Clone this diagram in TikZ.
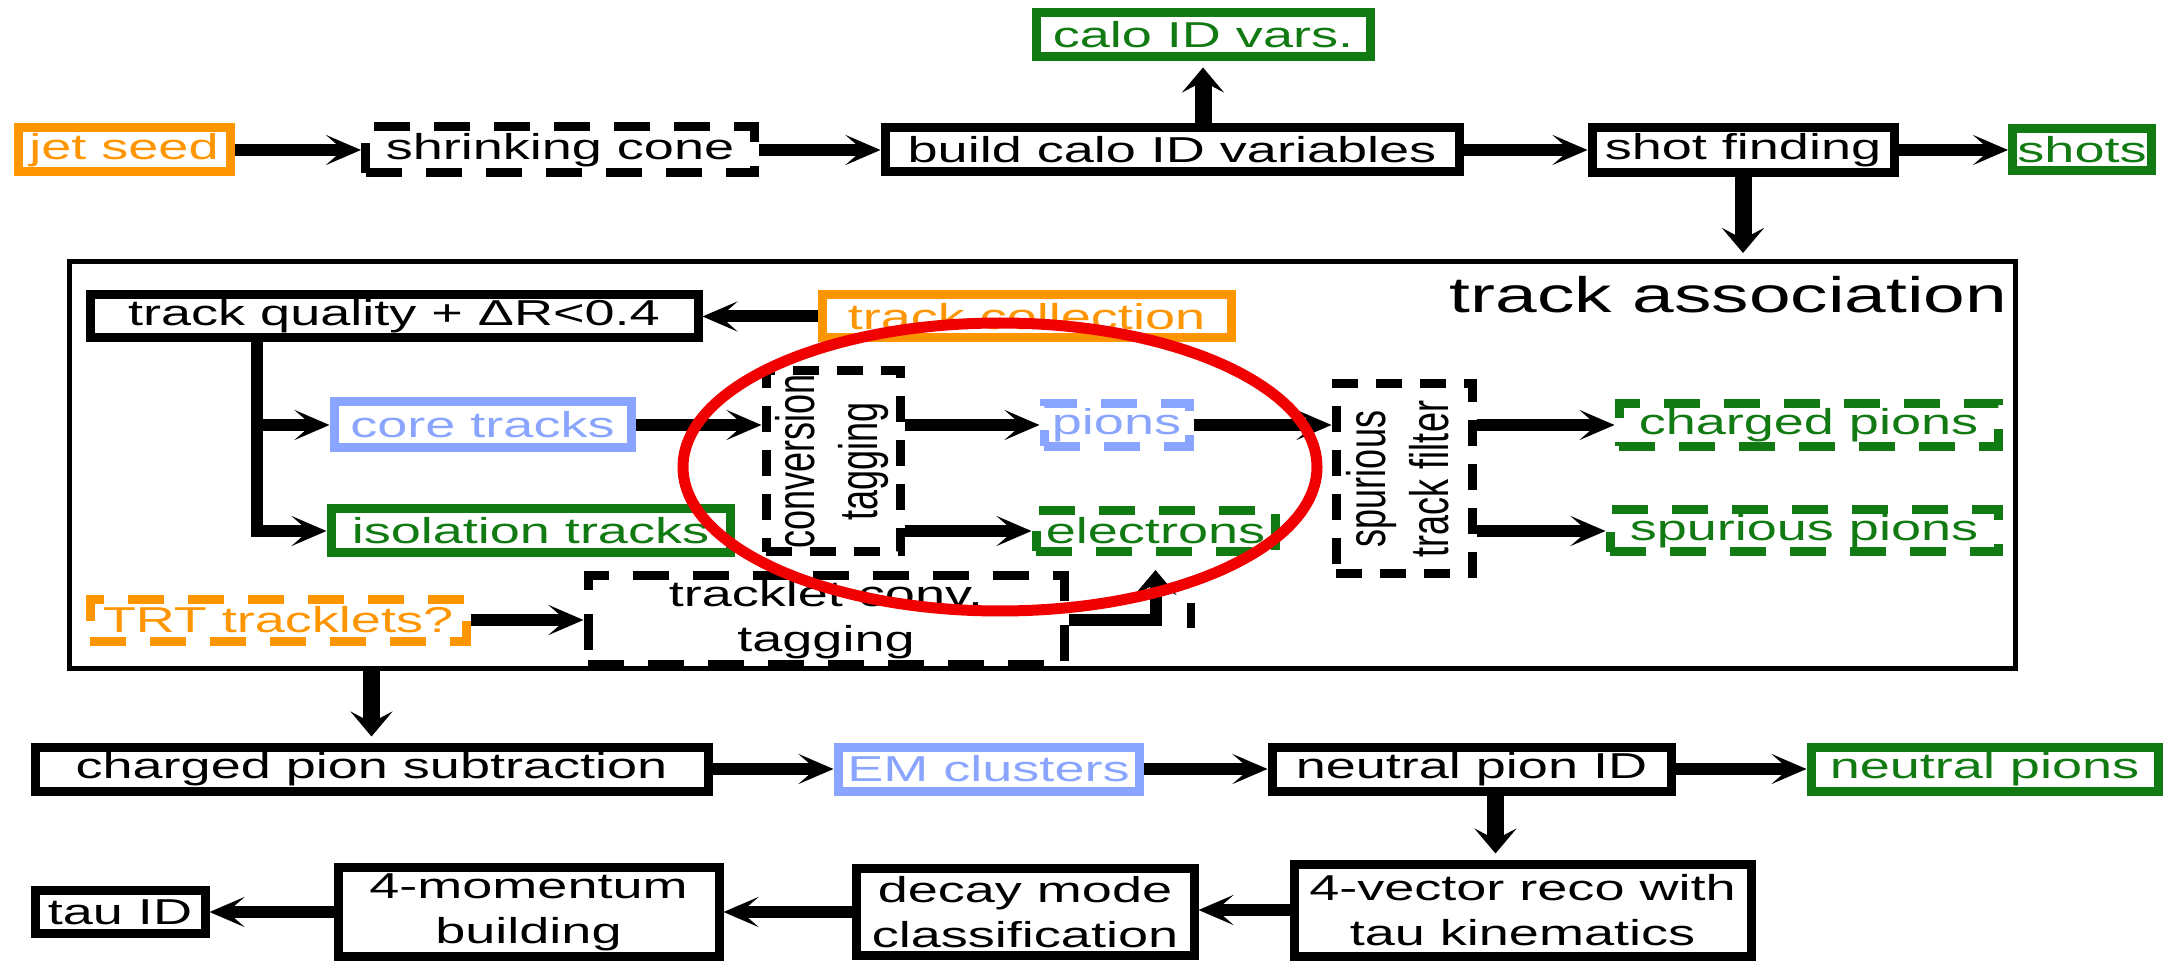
\documentclass[tikz,border=0pt]{standalone}
\usepackage{fontspec}
\setmainfont{Liberation Sans}[FakeStretch=1.5]
\newfontfamily\plainsans{Liberation Sans}
\usepackage{graphicx}
\usepackage{tikz}
\usetikzlibrary{arrows.meta,positioning}

\definecolor{seedorange}{HTML}{FF9500}
\definecolor{outgreen}{HTML}{127A12}
\definecolor{clublue}{HTML}{8AA5FF}
\definecolor{ringred}{HTML}{F00000}

% two-line label turned on its side
\newcommand{\rotlabel}[2]{\rotatebox{90}{\scalebox{1}[1.5]{\plainsans\fontsize{10.25}{12}\selectfont
  \begin{tabular}{@{}c@{}}#1\\#2\end{tabular}}}}

\begin{document}
\begin{tikzpicture}[
  x=0.1mm, y=-0.1mm,
  every node/.style={font=\fontsize{10.25}{12.8}\selectfont},
  box/.style={rectangle, draw, line width=0.9mm, inner sep=0pt, align=center},
  dbox/.style={box, dash pattern=on 3.6mm off 2.4mm},
  vdbox/.style={box, dash pattern=on 2.6mm off 1.8mm},
  orangebox/.style={draw=seedorange, text=seedorange},
  greenbox/.style={draw=outgreen, text=outgreen},
  bluebox/.style={draw=clublue, text=clublue},
  harr/.style={-{Stealth[length=3.5mm, width=3mm, inset=1.7mm]}, line width=1.2mm},
  varr/.style={-{Stealth[length=2.5mm, width=4.2mm, inset=1.1mm]}, line width=1.7mm,
               shorten >=0.6mm},
]
\useasboundingbox (0,0) rectangle (2180,961);

% calorimeter chain
\node[box, orangebox, minimum width=21.2mm, minimum height=4.4mm] (seed) at (124,150) {jet seed};
\node[dbox, minimum width=38.9mm, minimum height=4.6mm]   (cone)     at (560,150)  {shrinking cone};
\node[box, minimum width=57.4mm, minimum height=4.4mm]    (calo)     at (1172,150) {build calo ID variables};
\node[box, greenbox, minimum width=33.4mm, minimum height=4.4mm] (calovars) at (1203,35) {calo ID vars.};
\node[box, minimum width=30.2mm, minimum height=4.5mm]    (shot)     at (1743,150) {shot finding};
\node[box, greenbox, minimum width=13.9mm, minimum height=4.2mm] (shots) at (2082,150) {shots};

% track association
\node[rectangle, draw, line width=0.5mm, inner sep=0pt,
      minimum width=194.6mm, minimum height=40.7mm] (ta) at (1042.5,465) {};
\node[font=\fontsize{14.2}{17}\selectfont, anchor=base east, inner sep=0pt]
                                                          (talabel)  at (2008,313) {track association};
\node[box, minimum width=60.8mm, minimum height=4.3mm]    (tq)       at (394,316.5) {track quality + ΔR<0.4};
\node[box, orangebox, minimum width=40.9mm, minimum height=4.3mm] (tcol) at (1026.5,316.5) {track collection};
\node[box, bluebox, minimum width=29.7mm, minimum height=4.6mm]   (core) at (482.5,425) {core tracks};
\node[box, greenbox, minimum width=39.9mm, minimum height=4.4mm]  (iso)  at (530.5,531) {isolation tracks};
\node[vdbox, minimum width=13.4mm, minimum height=18.1mm] (conv)     at (833,461.5) {\rotlabel{conversion}{tagging}};
\node[dbox, bluebox, minimum width=14.5mm, minimum height=4.3mm]  (pions) at (1116.5,425) {pions};
\node[dbox, greenbox, minimum width=23.9mm, minimum height=4.1mm] (el)   at (1155.5,531) {electrons};
\node[vdbox, minimum width=13.6mm, minimum height=19mm]   (spur)     at (1404,479) {\rotlabel{spurious}{track filter}};
\node[dbox, greenbox, minimum width=37.9mm, minimum height=4.3mm] (chpi) at (1808.5,425) {charged pions};
\node[dbox, greenbox, minimum width=38.8mm, minimum height=4.2mm] (sppi) at (1804,531) {spurious pions};
\node[dbox, orangebox, minimum width=37.6mm, minimum height=4.2mm] (trt) at (278,620) {TRT tracklets?};
\node[dbox, minimum width=47.6mm, minimum height=8.9mm]   (tc)       at (826,620) {tracklet conv.\\tagging};

% neutral pions and tau
\node[box, minimum width=67.3mm, minimum height=4.4mm]    (cps)      at (371.5,769) {charged pion subtraction};
\node[box, bluebox, minimum width=30.1mm, minimum height=4.4mm]  (em)  at (988.5,769) {EM clusters};
\node[box, minimum width=39.9mm, minimum height=4.4mm]    (npid)     at (1471.5,769) {neutral pion ID};
\node[box, greenbox, minimum width=34.7mm, minimum height=4.4mm] (npi) at (1984.5,769) {neutral pions};
\node[box, minimum width=45.7mm, minimum height=9.2mm]    (vec)      at (1522.5,910) {4-vector reco with\\tau kinematics};
\node[box, minimum width=33.8mm, minimum height=8.7mm]    (dm)       at (1025,912) {decay mode\\classification};
\node[box, minimum width=38.1mm, minimum height=8.9mm]    (mom)      at (528.5,912) {4-momentum\\building};
\node[box, minimum width=17mm, minimum height=4.3mm]      (tau)      at (120,912) {tau ID};

\draw[harr] (seed) -- (cone);
\draw[harr] (cone) -- (calo);
\draw[harr] (calo) -- (shot);
\draw[harr] (shot) -- (shots);
\draw[varr] (calo.north -| calovars) -- (calovars.south);
\draw[varr] (shot.south) -- (shot.south |- ta.north);

\draw[harr] (tcol) -- (tq);
\draw[harr] ([xshift=-13.7mm]tq.south) |- (iso.west);
\draw[harr] ([xshift=-13.7mm]tq.south |- core) -- (core.west);
\draw[harr] (core.east) -- (core.east -| conv.west);
\draw[harr] (conv.east |- pions) -- (pions.west);
\draw[harr] (conv.east |- el) -- (el.west);
\draw[harr] (pions.east) -- (pions.east -| spur.west);
\draw[harr] (spur.east |- chpi) -- (chpi.west);
\draw[harr] (spur.east |- sppi) -- (sppi.west);
\draw[harr] (trt) -- (tc);
\draw[varr, line width=1.2mm, shorten >=1.4mm] (tc.east) -| (el.south);
\draw[line width=0.8mm] (1191,603) -- (1191,628);

\draw[varr] (cps.north |- ta.south) -- (cps.north);
\draw[harr] (cps) -- (em);
\draw[harr] (em) -- (npid);
\draw[harr] (npid) -- (npi);
\draw[varr] ([xshift=2.4mm]npid.south) -- ([xshift=2.4mm]npid.south |- vec.north);
\draw[harr] (vec.west) -- (vec.west -| dm.east);
\draw[harr] (dm) -- (mom);
\draw[harr] (mom) -- (tau);

\draw[ringred, line width=1.1mm] (1000,467) ellipse [x radius=31.7mm, y radius=14.4mm];
\end{tikzpicture}
\end{document}
